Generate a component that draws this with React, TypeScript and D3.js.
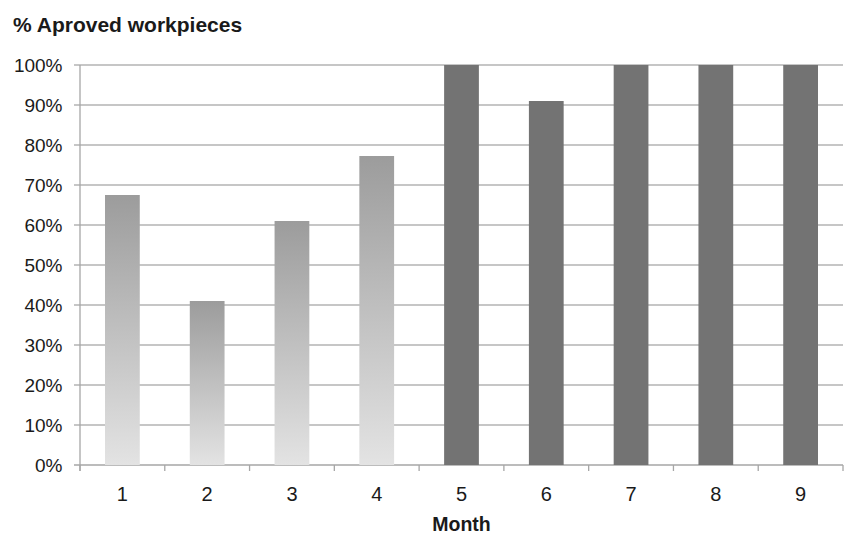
import React from "react";
import * as d3 from "d3";

const months = ["1", "2", "3", "4", "5", "6", "7", "8", "9"];
const approved = [0.675, 0.41, 0.61, 0.7725, 1.0, 0.91, 1.0, 1.0, 1.0];
const gradientMonths = ["1", "2", "3", "4"];
const yTicks = [0, 0.1, 0.2, 0.3, 0.4, 0.5, 0.6, 0.7, 0.8, 0.9, 1.0];

const W = 846;
const H = 536;
const margin = { left: 80, right: 3, top: 65, bottom: 71 };

export default function App() {
  const x = d3
    .scaleBand<string>()
    .domain(months)
    .range([margin.left, W - margin.right])
    .paddingInner(0.59)
    .paddingOuter(0.295);
  const y = d3.scaleLinear().domain([0, 1]).range([H - margin.bottom, margin.top]);
  const fmt = d3.format(".0%");
  const font = "'Liberation Sans', Arial, Helvetica, sans-serif";
  const x0 = margin.left;
  const x1 = W - margin.right;
  const y0 = y(0);
  const bandEdges = d3.range(months.length + 1).map((i) => x0 + (i * (x1 - x0)) / months.length);

  return (
    <svg
      width={W}
      height={H}
      style={{ position: "absolute", left: 0, top: 0, background: "#fff" }}
      fontFamily={font}
    >
      <defs>
        <linearGradient id="barFade" x1="0" y1="0" x2="0" y2="1">
          <stop offset="0%" stopColor="#9c9c9c" />
          <stop offset="100%" stopColor="#e3e3e3" />
        </linearGradient>
      </defs>
      <rect width={W} height={H} fill="#fff" />
      <text x={13} y={32} fontSize={21} fontWeight="bold" fill="#1a1a1a">
        % Aproved workpieces
      </text>

      {yTicks.map((t) => (
        <g key={t}>
          <line
            x1={x0 - 6}
            x2={x1}
            y1={y(t)}
            y2={y(t)}
            stroke={t === 0 ? "#a6a6a6" : "#b3b3b3"}
            strokeWidth={1.3}
          />
          <text
            x={x0 - 17.5}
            y={y(t)}
            dy="0.36em"
            textAnchor="end"
            fontSize={19}
            fill="#1a1a1a"
          >
            {fmt(t)}
          </text>
        </g>
      ))}

      <line x1={x0} x2={x0} y1={y(1)} y2={y0 + 6} stroke="#a6a6a6" strokeWidth={1.3} />
      {bandEdges.map((bx, i) => (
        <line key={i} x1={bx} x2={bx} y1={y0} y2={y0 + 6} stroke="#a6a6a6" strokeWidth={1.3} />
      ))}

      {months.map((m, i) => (
        <rect
          key={m}
          x={x(m)}
          y={y(approved[i])}
          width={x.bandwidth()}
          height={y0 - y(approved[i])}
          fill={gradientMonths.includes(m) ? "url(#barFade)" : "#737373"}
        />
      ))}

      {months.map((m) => (
        <text
          key={m}
          x={(x(m) as number) + x.bandwidth() / 2}
          y={501}
          textAnchor="middle"
          fontSize={20}
          fill="#1a1a1a"
        >
          {m}
        </text>
      ))}

      <text
        x={(x0 + x1) / 2}
        y={531}
        textAnchor="middle"
        fontSize={19.5}
        fontWeight="bold"
        fill="#1a1a1a"
      >
        Month
      </text>
    </svg>
  );
}
